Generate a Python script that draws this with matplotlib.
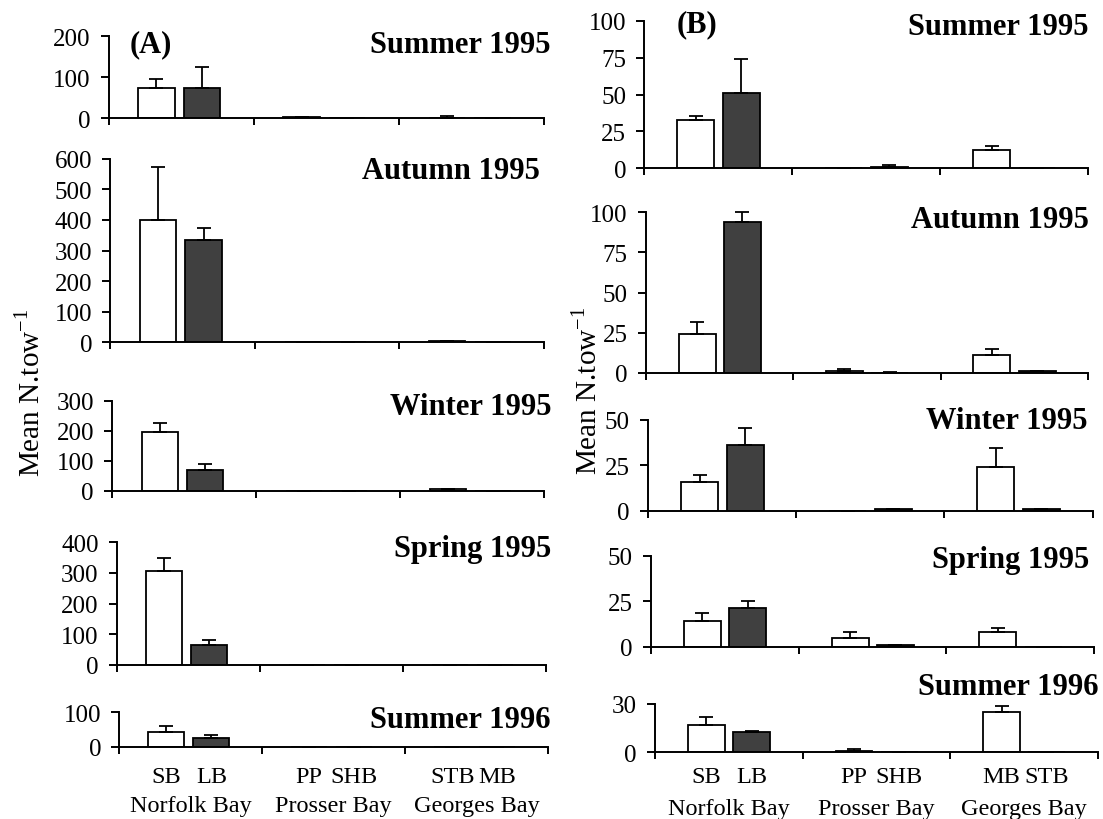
import matplotlib
matplotlib.use("Agg")
import matplotlib.pyplot as plt

# Sites (panel A and panel B list the Georges Bay sites in a different order)
sites_a = ["SB", "LB", "PP", "SHB", "STB", "MB"]
sites_b = ["SB", "LB", "PP", "SHB", "MB", "STB"]
bays = ["Norfolk Bay", "Prosser Bay", "Georges Bay"]
seasons = ["Summer 1995", "Autumn 1995", "Winter 1995", "Spring 1995", "Summer 1996"]

# Mean catch per tow and upper error, panel (A)
summer95_a = [74, 74, 3, 0, 0, 0]
summer95_a_err = [21, 50, 0, 0, 4, 0]
autumn95_a = [400, 333, 0, 0, 5, 0]
autumn95_a_err = [173, 39, 0, 0, 0, 0]
winter95_a = [195, 69, 0, 0, 6, 0]
winter95_a_err = [33, 20, 0, 0, 0, 0]
spring95_a = [307, 65, 0, 0, 0, 0]
spring95_a_err = [41, 16, 0, 0, 0, 0]
summer96_a = [42, 24, 0, 0, 0, 0]
summer96_a_err = [17, 11, 0, 0, 0, 0]

# Mean catch per tow and upper error, panel (B)
summer95_b = [32.5, 51.2, 0, 1, 12.4, 0]
summer95_b_err = [2.7, 23.1, 0, 1.5, 2.7, 0]
autumn95_b = [24.3, 93.8, 1, 0, 11.4, 1]
autumn95_b_err = [7.2, 6.2, 1.5, 0.5, 3.5, 0]
winter95_b = [15.6, 36.4, 0, 1, 24.3, 1]
winter95_b_err = [4.3, 9.0, 0, 0, 10.1, 0]
spring95_b = [14.3, 21.1, 4.6, 0.8, 7.9, 0]
spring95_b_err = [4.2, 4.2, 3.3, 0, 2.2, 0]
summer96_b = [17.2, 12.4, 1, 0, 24.8, 0]
summer96_b_err = [5.0, 1.0, 1, 0, 3.7, 0]

# y-axis ticks for each season
yticks_a = [[0, 100, 200], [0, 100, 200, 300, 400, 500, 600], [0, 100, 200, 300],
            [0, 100, 200, 300, 400], [0, 100]]
yticks_b = [[0, 25, 50, 75, 100], [0, 25, 50, 75, 100], [0, 25, 50], [0, 25, 50], [0, 30]]

values_a = [summer95_a, autumn95_a, winter95_a, spring95_a, summer96_a]
errors_a = [summer95_a_err, autumn95_a_err, winter95_a_err, spring95_a_err, summer96_a_err]
values_b = [summer95_b, autumn95_b, winter95_b, spring95_b, summer96_b]
errors_b = [summer95_b_err, autumn95_b_err, winter95_b_err, spring95_b_err, summer96_b_err]

plt.rcParams["font.family"] = "Liberation Serif"
plt.rcParams["mathtext.fontset"] = "custom"
plt.rcParams["mathtext.rm"] = "Liberation Serif"

W, H = 1103, 820
fig = plt.figure(figsize=(W / 100, H / 100), dpi=100)

# panel boxes in pixels: left, right, top, bottom
boxes_a = [(108.6, 544, 37.3, 119), (110.3, 544, 159.7, 343.3), (112, 544, 402, 491.7),
           (116.6, 545.8, 543.3, 665.7), (119.1, 548, 713.3, 747.7)]
boxes_b = [(644.4, 1088, 21.7, 169.3), (645.8, 1088, 213.3, 374), (648, 1092.5, 421, 511.7),
           (651, 1094, 556.7, 647.7), (655, 1097.8, 705, 753.3)]
# season title anchors (right edge, baseline) in pixels
titles_a = [(551, 53), (540, 179), (551, 415), (551, 557), (551, 728)]
titles_b = [(1089, 35), (1089, 228), (1088, 429), (1089, 568), (1099, 695)]

DARK = "#404040"


def fig_text(x, y, s, **kw):
    fig.text(x / W, 1 - y / H, s, **kw)


def draw_panel(box, vals, errs, yticks, offsets, names, bottom):
    l, r, t, b = box
    ax = fig.add_axes([l / W, 1 - b / H, (r - l) / W, (b - t) / H])
    xs = [i // 2 + offsets[i % 2] for i in range(len(vals))]
    colors = ["white" if i % 2 == 0 else DARK for i in range(len(vals))]
    ax.bar(xs, vals, width=0.25, color=colors, edgecolor="black", linewidth=1.3, zorder=2)
    ax.errorbar(xs, vals, yerr=[[0] * len(errs), errs], fmt="none", ecolor="black",
                elinewidth=1.3, capsize=4.7, capthick=1.3, zorder=3, clip_on=False)
    ax.set_xlim(0, 3)
    ax.set_ylim(0, yticks[-1])
    ax.set_yticks(yticks)
    ax.set_xticks([0, 1, 2, 3])
    ax.set_xticklabels([])
    for s in ["top", "right"]:
        ax.spines[s].set_visible(False)
    for s in ["left", "bottom"]:
        ax.spines[s].set_linewidth(1.4)
    ax.tick_params(axis="y", direction="out", length=6, width=1.4, pad=7, labelsize=18)
    ax.tick_params(axis="x", direction="out", length=5, width=1.4)
    ax.patch.set_alpha(0)
    if bottom:
        row1, row2 = bottom
        for x, name in zip(xs, names):
            ax.annotate(name, xy=(x, 0), xycoords=("data", "axes fraction"),
                        xytext=(0, -row1), textcoords="offset points",
                        ha="center", va="baseline", fontsize=17.5)
        for i, bay in enumerate(bays):
            ax.annotate(bay, xy=(i + 0.5, 0), xycoords=("data", "axes fraction"),
                        xytext=(0, -row2), textcoords="offset points",
                        ha="center", va="baseline", fontsize=17.5)
    return ax


for k in range(5):
    last = k == 4
    draw_panel(boxes_a[k], values_a[k], errors_a[k], yticks_a[k], (0.33, 0.645), sites_a,
               (25.4, 46.3) if last else None)
    draw_panel(boxes_b[k], values_b[k], errors_b[k], yticks_b[k], (0.348, 0.655), sites_b,
               (21.4, 44.4) if last else None)
    fig_text(*titles_a[k], seasons[k], ha="right", va="baseline", fontsize=22, fontweight="bold")
    fig_text(*titles_b[k], seasons[k], ha="right", va="baseline", fontsize=22, fontweight="bold")

# panel letters and y-axis labels
fig_text(129.6, 52, "(A)", ha="left", va="baseline", fontsize=22, fontweight="bold")
fig_text(676.8, 32, "(B)", ha="left", va="baseline", fontsize=22, fontweight="bold")
fig_text(30, 393, "Mean N.tow$^{-1}$", rotation=90, ha="center", va="center", fontsize=21)
fig_text(587, 391, "Mean N.tow$^{-1}$", rotation=90, ha="center", va="center", fontsize=21)

fig.savefig("out.png", dpi=100)
